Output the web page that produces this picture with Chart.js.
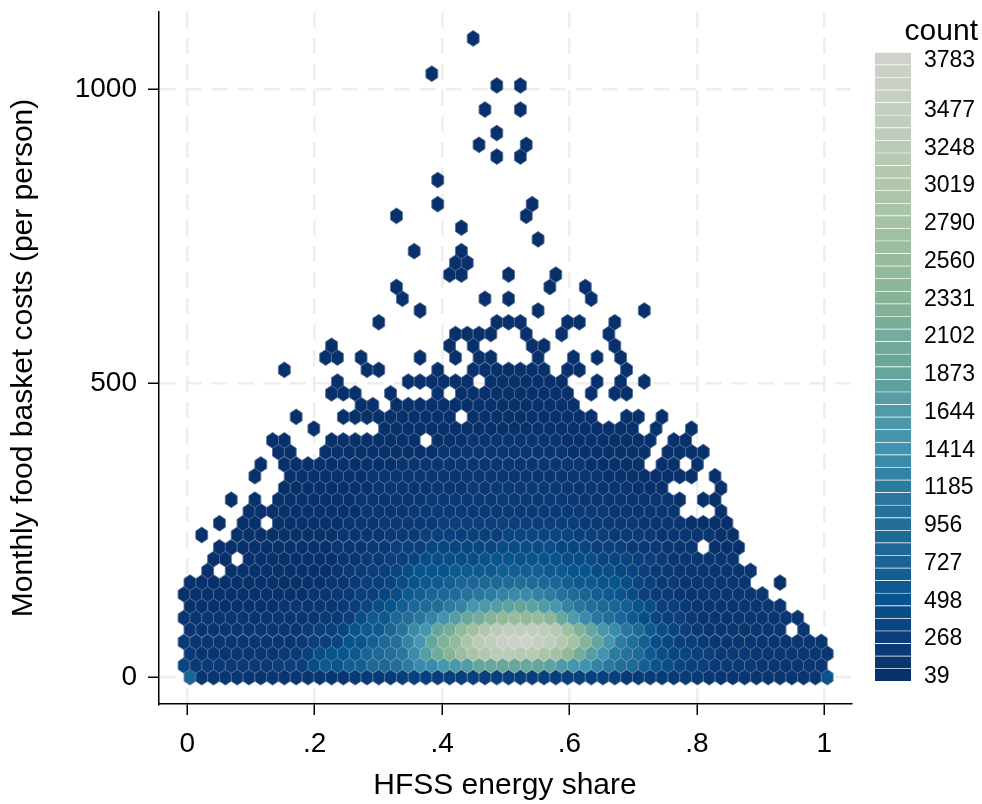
<!DOCTYPE html>
<html lang="en">

<head>
    <meta charset="UTF-8">
    <title>HFSS energy share vs food basket costs</title>
    <script src="https://cdn.jsdelivr.net/npm/chart.js@4"></script>
    <style>
        html, body { margin: 0; padding: 0; background: #fff; }
        #main { position: absolute; left: 0; top: 0; }
        #bar { position: absolute; left: 860px; top: 10px; }
        #barTitle { position: absolute; left: 860px; width: 118px; top: 13px; text-align: right;
            font: 30px "Liberation Sans", Arial, sans-serif; color: #000; }
    </style>
</head>

<body>
    <canvas id="main" width="982" height="804"></canvas>
    <canvas id="bar" width="122" height="700"></canvas>
    <div id="barTitle">count</div>

    <script>
        const xTickValues = [0, 0.2, 0.4, 0.6, 0.8, 1];
        const xTickLabels = ['0', '.2', '.4', '.6', '.8', '1'];
        const yTickValues = [0, 500, 1000];
        const yTickLabels = ['0', '500', '1000'];

        // hexagon centres, one column value per bin (odd rows sit half a step left)
        const columnX = [.0042, .0227, .0413, .0598, .0783, .0968, .1154, .1339, .1524, .1709,
            .1895, .2080, .2265, .2450, .2636, .2821, .3006, .3191, .3377, .3562,
            .3747, .3932, .4118, .4303, .4488, .4673, .4859, .5044, .5229, .5414,
            .5600, .5785, .5970, .6155, .6341, .6526, .6711, .6896, .7082, .7267,
            .7452, .7637, .7823, .8008, .8193, .8378, .8564, .8749, .8934, .9119,
            .9305, .9490, .9675, .9860, 1.0046];
        const oddRowShift = -0.0093;
        const rowY = [0, 20, 40, 60, 81, 101, 121, 141, 161, 181, 201, 221, 242, 262, 282, 302, 322, 342,
            362, 383, 403, 423, 443, 463, 483, 503, 523, 544, 564, 584, 604, 624, 644, 664, 685, 705,
            725, 745, 765, 785, 805, 826, 846, 866, 886, 906, 926, 946, 966, 987, 1007, 1027, 1047, 1067, 1087];

        // count range and the ticks on the colour bar
        const countMin = 39;
        const countStep = 76.4;
        const binCount = 50;
        const barTicks = [3783, 3477, 3248, 3019, 2790, 2560, 2331, 2102, 1873, 1644, 1414, 1185, 956, 727, 498, 268, 39];
        const barTickBins = [49, 45, 42, 39, 36, 33, 30, 27, 24, 21, 18, 15, 12, 9, 6, 3, 0];

        // one string per row, bottom row first, one char per column. '.' = no hexagon,
        // otherwise the colour bin of the cell (0-9, a-z, A-N = 0..49)
        const binChars = '0123456789abcdefghijklmnopqrstuvwxyzABCDEFGHIJKLMN';
        const hexRows = [
            '9111111111 1111222233 3333333333 3333333222 2222111111 11116',
            '4222222233 357688aacf hhjklopppp onljigecb8 6543322221 11111',
            '2111111122 356679aceh mquyBEGGFF CAwrmifdb7 5443322211 11111',
            '2111111111 2334668acg jotwBGILMN KIEAuojfc8 5433211111 11111',
            '1111111111 233467 79dh jorwzDGIJJ HFztokheb7 5432111111 1.1..',
            '1111111111 11223577ac egimpruwxw xvplhec975 4332111111 111..',
            '0000000011 111234568a bcfgjkmnon ljgeca9865 3321111111 1....',
            '0000000000 0112233457 89abdefghh gfdb987653 2211111111 .....',
            '0000000000 0011233456 77899aabcb a987766543 22111111.. 0....',
            '..0.000000 0001223345 6667777888 8776655443 221111111. .....',
            '..00.00000 0001122334 5555566666 6655544433 2111111... .....',
            '...0000000 0001112233 3444444555 5544433322 2111.000.. .....',
            '.0..000000 0001111222 3333333444 4443332222 1111100... .....',
            '...0.00.00 0000111222 2233333333 3333222221 1110000... .....',
            '.....00000 0000011112 2222222222 2222221111 11...0.... .....',
            '....0.0.00 0000011111 1222222222 2222111111 110.00.... .....',
            '........00 0000001111 1111222222 2211111100 0....0.... .....',
            '......0..0 0000001111 1111111111 1111110000 0000.0.... .....',
            '......0.00 0000000011 1111111111 111100000. 00.0...... .....',
            '........00 ..00000000 0011111111 1110000000 .0000..... .....',
            '.......00. ..00000000 .000111111 1100000000 .00....... .....',
            '.......... .0.....000 0000000000 000000000. 0..0...... .....',
            '.........0 ...0000000 000.000000 00000..00. 0......... .....',
            '.......... .....00.00 0000000000 0000...... .......... .....',
            '.......... ..000..0.. .0.0000000 000.0.00.. .......... .....',
            '.......... ...0.....0 00000.0000 000..0.0.0 .......... .....',
            '........0. .....00... .0..000000 0.00...0.. .......... .....',
            '.......... ..00.0.... 0..0.00... 0..0.0.0.. .......... .....',
            '.......... ..0....... ..0.0....0 0.....0... .......... .....',
            '.......... .......... ...0000..0 ..0...0... .......... .....',
            '.......... ......0... ......000. ..00..0... .......... .....',
            '.......... .......... 0......... 0........0 .......... .....',
            '.......... ........0. .....0.0.. ....0..... .......... .....',
            '.......... ........0. .......... .0..0..... .......... .....',
            '.......... .......... ..00...0.. .0........ .......... .....',
            '.......... .......... ...00..... .......... .......... .....',
            '.......... .........0 ...0...... .......... .......... .....',
            '.......... .......... .......... 0......... .......... .....',
            '.......... .......... ...0...... .......... .......... .....',
            '.......... ........0. .........0 .......... .......... .....',
            '.......... .......... .0.......0 .......... .......... .....',
            '.......... .......... .......... .......... .......... .....',
            '.......... .......... .0........ .......... .......... .....',
            '.......... .......... .......... .......... .......... .....',
            '.......... .......... ......0.0. .......... .......... .....',
            '.......... .......... .....0...0 .......... .......... .....',
            '.......... .......... ......0... .......... .......... .....',
            '.......... .......... .......... .......... .......... .....',
            '.......... .......... .....0..0. .......... .......... .....',
            '.......... .......... .......... .......... .......... .....',
            '.......... .......... ......0.0. .......... .......... .....',
            '.......... .......... .0........ .......... .......... .....',
            '.......... .......... .......... .......... .......... .....',
            '.......... .......... .......... .......... .......... .....',
            '.......... .......... ....0..... .......... .......... .....'
        ];

        // colour ramp
        const rampBins = [0, 3, 6, 9, 12, 15, 18, 21, 24, 27, 30, 33, 36, 39, 42, 45, 49];
        const rampColors = ['#08306b', '#0a3f7b', '#08548d', '#1a6595', '#226e99', '#2d7ba0', '#4193af', '#4f9ba8',
            '#65a59b', '#74ab9a', '#87b496', '#98bb9c', '#a5c2a4', '#b0c7ab', '#bacbb8', '#c2cfc0', '#cfd1ca'];

        function hexToRgb(hex) {
            return [1, 3, 5].map(i => parseInt(hex.slice(i, i + 2), 16));
        }

        function binColor(bin) {
            let i = 0;
            while (i < rampBins.length - 2 && rampBins[i + 1] <= bin) i++;
            const t = (bin - rampBins[i]) / (rampBins[i + 1] - rampBins[i]);
            const a = hexToRgb(rampColors[i]);
            const b = hexToRgb(rampColors[i + 1]);
            return `rgb(${a.map((v, k) => Math.round(v + (b[k] - v) * t)).join(',')})`;
        }

        // Chart.js has no hexagon point, so a point element that draws one at its scaled x/y
        class HexPoint extends Chart.PointElement {
            draw(ctx) {
                const { x, y } = this.getProps(['x', 'y'], true);
                const w = 5.9, h = 7.89;
                ctx.save();
                ctx.beginPath();
                ctx.moveTo(x, y - h);
                ctx.lineTo(x + w, y - h / 2);
                ctx.lineTo(x + w, y + h / 2);
                ctx.lineTo(x, y + h);
                ctx.lineTo(x - w, y + h / 2);
                ctx.lineTo(x - w, y - h / 2);
                ctx.closePath();
                ctx.fillStyle = this.options.backgroundColor;
                ctx.strokeStyle = this.options.backgroundColor;
                ctx.lineWidth = 0.8;
                ctx.fill();
                ctx.stroke();
                ctx.strokeStyle = 'rgba(255,255,255,0.36)';
                ctx.lineWidth = 0.7;
                ctx.stroke();
                ctx.restore();
            }
        }
        HexPoint.id = 'hexPoint';
        HexPoint.defaults = Chart.PointElement.defaults;

        class HexController extends Chart.ScatterController {}
        HexController.id = 'hexbin';
        HexController.defaults = { ...Chart.ScatterController.defaults, dataElementType: 'hexPoint' };
        Chart.register(HexPoint, HexController);

        const points = [];
        hexRows.forEach((row, r) => {
            row.replace(/ /g, '').split('').forEach((ch, c) => {
                if (ch === '.') return;
                points.push({
                    x: columnX[c] + (r % 2 ? oddRowShift : 0),
                    y: rowY[r],
                    bin: binChars.indexOf(ch),
                    count: countMin + countStep * binChars.indexOf(ch)
                });
            });
        });

        const fontFamily = '"Liberation Sans", Arial, sans-serif';

        new Chart(document.getElementById('main'), {
            type: 'hexbin',
            data: {
                datasets: [{
                    data: points,
                    backgroundColor: ctx => binColor(ctx.raw ? ctx.raw.bin : 0)
                }]
            },
            options: {
                responsive: false,
                animation: false,
                events: [],
                layout: { padding: { top: 12, right: 131, left: 0, bottom: 0 } },
                plugins: { legend: { display: false }, tooltip: { enabled: false } },
                scales: {
                    x: {
                        type: 'linear',
                        min: -0.0444,
                        max: 1.0419,
                        afterBuildTicks: s => { s.ticks = xTickValues.map(v => ({ value: v })); },
                        afterFit: s => { s.height = 100; s.paddingLeft = 0; s.paddingRight = 0; },
                        ticks: {
                            callback: (v, i) => xTickLabels[i],
                            autoSkip: false,
                            maxRotation: 0,
                            padding: 12,
                            color: '#000',
                            font: { family: fontFamily, size: 28 }
                        },
                        grid: { color: '#eeeeee', lineWidth: 2.5, tickColor: '#000', tickWidth: 1.5, tickLength: 11 },
                        border: { color: '#000', width: 1.5, dash: [16, 10] },
                        title: {
                            display: true,
                            text: 'HFSS energy share',
                            color: '#000',
                            font: { family: fontFamily, size: 30 },
                            padding: { top: 0, bottom: 0 }
                        }
                    },
                    y: {
                        type: 'linear',
                        min: -45.6,
                        max: 1132,
                        afterBuildTicks: s => { s.ticks = yTickValues.map(v => ({ value: v })); },
                        afterFit: s => { s.width = 159; s.paddingTop = 0; s.paddingBottom = 0; },
                        ticks: {
                            callback: (v, i) => yTickLabels[i],
                            autoSkip: false,
                            padding: 11,
                            color: '#000',
                            font: { family: fontFamily, size: 28 }
                        },
                        grid: { color: '#eeeeee', lineWidth: 2.5, tickColor: '#000', tickWidth: 1.5, tickLength: 11 },
                        border: { color: '#000', width: 1.5, dash: [16, 10] },
                        title: {
                            display: true,
                            text: 'Monthly food basket costs (per person)',
                            color: '#000',
                            font: { family: fontFamily, size: 30 },
                            padding: { top: 6, bottom: 0 }
                        }
                    }
                }
            }
        });

        // colour bar: one stacked band per bin, top band first
        const barBins = [];
        for (let b = binCount - 1; b >= 0; b--) barBins.push(b);

        new Chart(document.getElementById('bar'), {
            type: 'bar',
            data: {
                labels: barBins.map(b => {
                    const i = barTickBins.indexOf(b);
                    return i >= 0 ? String(barTicks[i]) : '';
                }),
                datasets: [{
                    data: barBins.map(() => 1),
                    backgroundColor: barBins.map(binColor),
                    borderColor: 'rgba(255,255,255,0.22)',
                    borderWidth: { top: 1, bottom: 0, left: 0, right: 0 },
                    borderSkipped: false,
                    barPercentage: 1,
                    categoryPercentage: 1
                }]
            },
            options: {
                indexAxis: 'y',
                responsive: false,
                animation: false,
                events: [],
                layout: { padding: { top: 42, left: 15, right: 0, bottom: 29 } },
                plugins: { legend: { display: false }, tooltip: { enabled: false } },
                scales: {
                    x: { display: false, min: 0, max: 1 },
                    y: {
                        position: 'right',
                        afterFit: s => { s.width = 71; s.paddingTop = 0; s.paddingBottom = 0; },
                        grid: { display: false, drawTicks: false },
                        border: { display: false },
                        ticks: {
                            autoSkip: false,
                            padding: 13,
                            labelOffset: 2,
                            color: '#000',
                            font: { family: fontFamily, size: 23 }
                        }
                    }
                }
            }
        });
    </script>
</body>

</html>
